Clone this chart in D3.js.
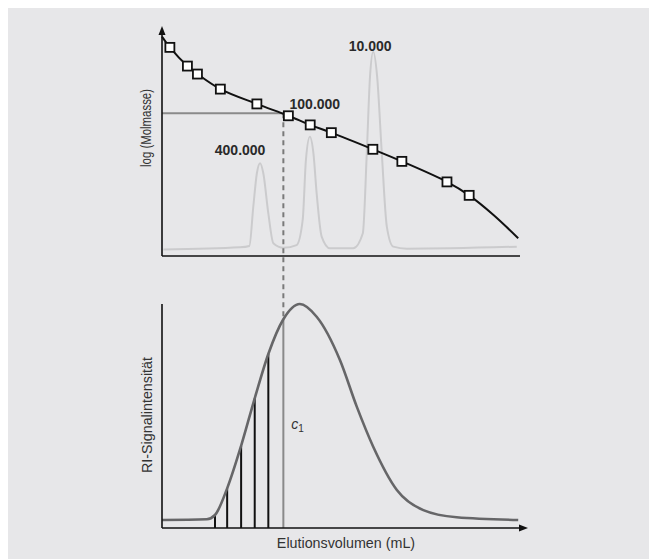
<!DOCTYPE html>
<html lang="de">
<head>
<meta charset="UTF-8">
<title>GPC Kalibrierung</title>
<script src="https://d3js.org/d3.v7.min.js"></script>
<style>
  html, body { margin: 0; padding: 0; background: #fff; }
  svg { display: block; }
</style>
</head>
<body>
<div id="chart"></div>
<script>
// Elutionsvolumen in relativen Einheiten (0-100), Signal/log M ebenfalls relativ (0-100)
const calibPoints = [
  [2.2, 91.5], [7.1, 83.3], [9.9, 79.8], [16.3, 73.2], [26.5, 66.7], [35.3, 61.5],
  [41.4, 57.5], [47.3, 54.1], [58.9, 46.8], [67.0, 41.5], [79.6, 32.5], [85.8, 26.6]
];
const calibCurve = [
  [0, 96.2], [2.2, 91.5], [7.1, 83.3], [9.9, 79.8], [16.3, 73.2], [26.5, 66.7], [35.3, 61.5],
  [41.4, 57.5], [47.3, 54.1], [58.9, 46.8], [67.0, 41.5], [79.6, 32.5], [85.8, 26.6],
  [92.6, 18.0], [99.5, 7.8]
];
const standardTrace = [
  [0.4, 2.9], [21.8, 3.8], [24.4, 4.4], [25.5, 21.6], [26.5, 36.3], [27.4, 40.7], [28.3, 36.3],
  [29.7, 18.7], [31.1, 5.6], [33.9, 3.6], [37.6, 4.8], [39.3, 15.8], [40.2, 42.1], [41.3, 52.3],
  [42.3, 45.0], [43.2, 27.5], [44.6, 8.5], [46.9, 3.4], [53.4, 3.4], [56.1, 10.0], [57.2, 45.0],
  [58.1, 78.6], [59.0, 89.6], [60.1, 78.6], [61.4, 45.0], [62.8, 12.9], [64.6, 4.1], [68.4, 3.2],
  [99.1, 4.1]
];
const standardLabels = ["400.000", "100.000", "10.000"];
const standardPeaks = [[27.4, 40.7], [41.3, 52.3], [59.0, 89.6]];

const sampleCurve = [
  [0, 3.6], [12.5, 3.9], [14.8, 5.8], [18.2, 17.7], [22.1, 36.7], [25.9, 57.9], [29.7, 77.7],
  [33.9, 93.2], [38.5, 100], [43.2, 94.3], [49.7, 75.0], [54.4, 54.2], [59.0, 36.3],
  [65.6, 17.0], [73.0, 8.0], [82.3, 4.8], [99.5, 3.6]
];
const sliceX = [14.8, 18.2, 22.1, 25.9, 29.7];
const sliceY = [5.8, 17.7, 36.7, 57.9, 77.7];
const c1 = [33.9, 93.2];
const refLogM = 62.6;   // log M des 100.000-Standards

const W = 649, H = 559;
const svg = d3.select("#chart").append("svg").attr("width", W).attr("height", H);

svg.append("rect").attr("x", 8).attr("y", 8).attr("width", W - 8).attr("height", H - 8)
  .attr("fill", "#e7e7e9");

const x = d3.scaleLinear().domain([0, 100]).range([162, 520]);
const yTop = d3.scaleLinear().domain([0, 100]).range([256, 28]);
const yBot = d3.scaleLinear().domain([0, 100]).range([528, 304]);

const font = "'Liberation Sans', Arial, Helvetica, sans-serif";

// ---------- oberes Diagramm ----------
const lineTop = d3.line().x(d => x(d[0])).y(d => yTop(d[1])).curve(d3.curveMonotoneX);

svg.append("path").datum(standardTrace).attr("d", lineTop)
  .attr("fill", "none").attr("stroke", "#cbcbcd").attr("stroke-width", 2);

// horizontale Linie und gestrichelte Verbindung
svg.append("line")
  .attr("x1", x(0)).attr("x2", x(c1[0])).attr("y1", yTop(refLogM)).attr("y2", yTop(refLogM))
  .attr("stroke", "#8a8a8a").attr("stroke-width", 2);
svg.append("line")
  .attr("x1", x(c1[0])).attr("x2", x(c1[0])).attr("y1", yTop(refLogM)).attr("y2", yBot(c1[1]))
  .attr("stroke", "#7a7a7a").attr("stroke-width", 2).attr("stroke-dasharray", "5,4");

svg.append("path").datum(calibCurve).attr("d", d3.line().x(d => x(d[0])).y(d => yTop(d[1])).curve(d3.curveCatmullRom))
  .attr("fill", "none").attr("stroke", "#111").attr("stroke-width", 2);

svg.selectAll(".sq").data(calibPoints).enter().append("rect")
  .attr("x", d => x(d[0]) - 4.5).attr("y", d => yTop(d[1]) - 4.5)
  .attr("width", 9).attr("height", 9)
  .attr("fill", "#fff").attr("stroke", "#111").attr("stroke-width", 1.8);

const labelOffset = [[-20, -8], [5, -28], [-3, -1]];
svg.selectAll(".std").data(standardLabels).enter().append("text")
  .attr("x", (d, i) => x(standardPeaks[i][0]) + labelOffset[i][0])
  .attr("y", (d, i) => yTop(standardPeaks[i][1]) + labelOffset[i][1])
  .attr("text-anchor", "middle")
  .attr("font-family", font).attr("font-size", 14).attr("font-weight", "bold")
  .attr("fill", "#2a2a2a").text(d => d);

// Achsen oben
svg.append("line").attr("x1", x(0)).attr("x2", x(0)).attr("y1", 32).attr("y2", yTop(0))
  .attr("stroke", "#111").attr("stroke-width", 1.6);
svg.append("line").attr("x1", x(0)).attr("x2", x(100)).attr("y1", yTop(0)).attr("y2", yTop(0))
  .attr("stroke", "#111").attr("stroke-width", 1.6);
svg.append("path").attr("d", `M${x(0)},26 L${x(0) - 3.5},35 L${x(0) + 3.5},35 Z`).attr("fill", "#111");

svg.append("text")
  .attr("transform", "translate(151,128) rotate(-90)")
  .attr("text-anchor", "middle").attr("font-family", font).attr("font-size", 14)
  .attr("textLength", 78).attr("lengthAdjust", "spacingAndGlyphs")
  .attr("fill", "#333").text("log (Molmasse)");

// ---------- unteres Diagramm ----------
const lineBot = d3.line().x(d => x(d[0])).y(d => yBot(d[1])).curve(d3.curveMonotoneX);

svg.selectAll(".slice").data(sliceX).enter().append("line")
  .attr("x1", d => x(d)).attr("x2", d => x(d))
  .attr("y1", yBot(0)).attr("y2", (d, i) => yBot(sliceY[i]))
  .attr("stroke", "#111").attr("stroke-width", 2);

svg.append("line").attr("x1", x(c1[0])).attr("x2", x(c1[0]))
  .attr("y1", yBot(0)).attr("y2", yBot(c1[1]))
  .attr("stroke", "#8a8a8a").attr("stroke-width", 2);

svg.append("path").datum(sampleCurve).attr("d", lineBot)
  .attr("fill", "none").attr("stroke", "#666668").attr("stroke-width", 2.6);

const c1Label = svg.append("text")
  .attr("x", x(c1[0]) + 8).attr("y", yBot(44))
  .attr("font-family", font).attr("font-size", 14).attr("fill", "#333");
c1Label.append("tspan").attr("font-style", "italic").text("c");
c1Label.append("tspan").attr("font-size", 10).attr("dy", 3).text("1");

svg.append("line").attr("x1", x(0)).attr("x2", x(0)).attr("y1", yBot(100)).attr("y2", yBot(0))
  .attr("stroke", "#111").attr("stroke-width", 1.6);
svg.append("line").attr("x1", x(0)).attr("x2", 522).attr("y1", yBot(0)).attr("y2", yBot(0))
  .attr("stroke", "#111").attr("stroke-width", 1.6);
svg.append("path").attr("d", `M528,${yBot(0)} L519,${yBot(0) - 3.5} L519,${yBot(0) + 3.5} Z`).attr("fill", "#111");

svg.append("text")
  .attr("transform", `translate(152,415) rotate(-90)`)
  .attr("text-anchor", "middle").attr("font-family", font).attr("font-size", 14.3)
  .attr("fill", "#333").text("RI-Signalintensität");

svg.append("text").attr("x", 346).attr("y", 548)
  .attr("text-anchor", "middle").attr("font-family", font).attr("font-size", 14.3)
  .attr("fill", "#333").text("Elutionsvolumen (mL)");
</script>
</body>
</html>
